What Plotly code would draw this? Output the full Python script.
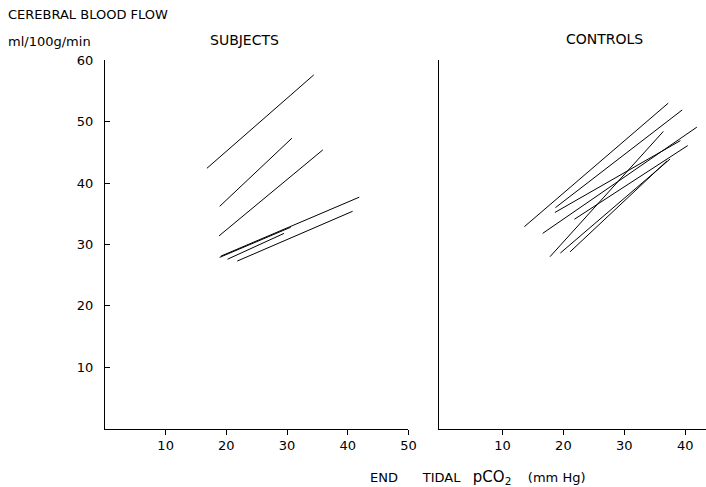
import plotly.graph_objects as go

# Subjects: regression lines (start/end points)
subj_x0 = [16.8, 18.9, 18.8, 19.1, 21.8, 18.9, 20.2]
subj_y0 = [42.4, 36.2, 31.4, 28.1, 27.3, 27.9, 27.6]
subj_x1 = [34.4, 30.8, 35.9, 41.9, 40.8, 30.6, 29.5]
subj_y1 = [57.6, 47.3, 45.4, 37.7, 35.4, 32.8, 31.8]

# Controls: regression lines (start/end points)
ctrl_x0 = [13.6, 18.7, 16.6, 17.8, 18.6, 21.8, 19.5, 21.1]
ctrl_y0 = [32.9, 36.0, 31.8, 28.0, 35.2, 34.1, 28.6, 28.8]
ctrl_x1 = [37.2, 39.5, 41.9, 36.4, 39.2, 40.4, 37.5, 37.0]
ctrl_y1 = [53.0, 51.9, 49.1, 48.4, 46.9, 46.1, 43.9, 43.6]

x_ticks_left = [10, 20, 30, 40, 50]
x_ticks_right = [10, 20, 30, 40]
y_ticks = [10, 20, 30, 40, 50, 60]

W, H = 714, 487
font = "DejaVu Sans"
fig = go.Figure()

for a, b, c, d in zip(subj_x0, subj_x1, subj_y0, subj_y1):
    fig.add_trace(go.Scatter(x=[a, b], y=[c, d], mode="lines",
                             line=dict(color="black", width=1), xaxis="x", yaxis="y",
                             showlegend=False, hoverinfo="skip"))
for a, b, c, d in zip(ctrl_x0, ctrl_x1, ctrl_y0, ctrl_y1):
    fig.add_trace(go.Scatter(x=[a, b], y=[c, d], mode="lines",
                             line=dict(color="black", width=1), xaxis="x2", yaxis="y2",
                             showlegend=False, hoverinfo="skip"))

ydom = [1 - 427.9 / H, 1 - 53.95 / H]
axis_common = dict(showgrid=False, zeroline=False, showline=True, linecolor="black",
                   linewidth=1, tickcolor="black", tickwidth=1,
                   tickfont=dict(family=font, size=13, color="black"))

fig.update_layout(
    width=W, height=H,
    margin=dict(l=0, r=0, t=0, b=0),
    paper_bgcolor="white", plot_bgcolor="white",
    xaxis=dict(domain=[106.1 / W, 413.1 / W], range=[0, 50], tickvals=x_ticks_left,
               ticks="outside", ticklen=5, anchor="y", **axis_common),
    yaxis=dict(domain=ydom, range=[0, 60], tickvals=y_ticks, ticks="inside",
               ticklen=5, ticklabelstandoff=8, anchor="x", **axis_common),
    xaxis2=dict(domain=[444.4 / W, 1.0], range=[-0.34, 43.4], tickvals=x_ticks_right,
                ticks="outside", ticklen=5, anchor="y2", **axis_common),
    yaxis2=dict(domain=ydom, range=[0, 60], tickvals=[60], ticks="inside",
                ticklen=5, showticklabels=False, anchor="x2", **axis_common),
)

tf = dict(family=font, size=13, color="black")
fig.add_annotation(text="CEREBRAL BLOOD FLOW", xref="paper", yref="paper",
                   x=6 / W, y=1 - 7.4 / H, xanchor="left", yanchor="middle",
                   showarrow=False, font=tf)
fig.add_annotation(text="ml/100g/min", xref="paper", yref="paper",
                   x=6 / W, y=1 - 34.7 / H, xanchor="left", yanchor="middle",
                   showarrow=False, font=tf)
fig.add_annotation(text="SUBJECTS", xref="paper", yref="paper",
                   x=247.5 / W, y=1 - 33.7 / H, xanchor="center", yanchor="middle",
                   showarrow=False, font=dict(family=font, size=14, color="black"))
fig.add_annotation(text="CONTROLS", xref="paper", yref="paper",
                   x=611.1 / W, y=1 - 32.7 / H, xanchor="center", yanchor="middle",
                   showarrow=False, font=dict(family=font, size=14, color="black"))
fig.add_annotation(text="END      TIDAL   <span style='font-size:15px'>pCO<sub>2</sub></span>    (mm Hg)",
                   xref="paper", yref="paper",
                   x=483.8 / W, y=1 - 477.5 / H, xanchor="center", yanchor="middle",
                   showarrow=False, font=tf)

fig.write_html(
    "out.html",
    config={"displayModeBar": False},
    post_script=(
        "document.body.style.margin='0';"
        "document.body.style.overflow='hidden';"
        "var g=document.getElementById('{plot_id}');"
        "g.style.position='fixed';g.style.left='0px';g.style.top='0px';"
    ),
)
